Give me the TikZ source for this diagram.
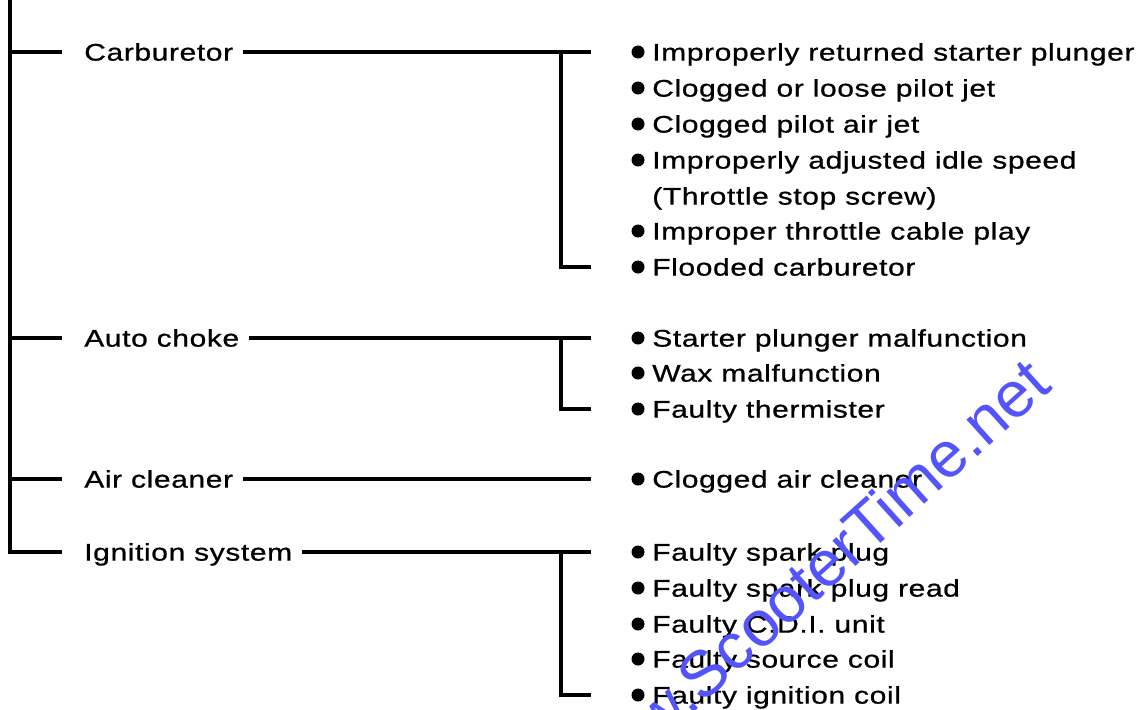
\documentclass[tikz,border=0pt]{standalone}
\usepackage{fontspec}
\newfontfamily\chartfont[FakeStretch=1.25,LetterSpace=2.5,FakeBold=0.8]{Liberation Sans}
\newfontfamily\markfont{Liberation Sans}
\definecolor{markblue}{RGB}{84,84,252}

\begin{document}
\begin{tikzpicture}[
    % one unit is one pixel, y runs downwards
    x=0.025cm, y=-0.025cm,
    link/.style = {draw, line width=2.2pt},
    % text height fixed so that west sits at the middle of the capitals
    group/.style = {anchor=west, inner sep=0pt, text height=0.43cm, text depth=0pt,
                    font=\chartfont\fontsize{17.07pt}{20pt}\selectfont},
    item/.style = {group},
    dot/.style = {circle, fill=black, inner sep=0pt, minimum size=0.325cm},
    watermark/.style = {anchor=base east, rotate=42, inner sep=0pt, text=markblue,
                        font=\markfont\fontsize{46pt}{54pt}\selectfont}
  ]
  \useasboundingbox (0,0) rectangle (1144,710);

  % groups on the left
  \node[group] (carb)  at (84,52)  {Carburetor};
  \node[group] (choke) at (84,338) {Auto choke};
  \node[group] (air)   at (84,479) {Air cleaner};
  \node[group] (ign)   at (84,552) {Ignition system};

  % causes on the right
  \foreach \y/\name/\text in {52/plunger/Improperly returned starter plunger,
                              88/pilotjet/Clogged or loose pilot jet,
                              124/airjet/Clogged pilot air jet,
                              160/idle/Improperly adjusted idle speed,
                              231/cable/Improper throttle cable play,
                              267/flooded/Flooded carburetor,
                              338/starter/Starter plunger malfunction,
                              373/wax/Wax malfunction,
                              409/thermister/Faulty thermister,
                              479/aircleaner/Clogged air cleaner,
                              552/sparkplug/Faulty spark plug,
                              588/plugread/Faulty spark plug read,
                              624/cdi/Faulty C.D.I. unit,
                              659/sourcecoil/Faulty source coil,
                              695/ignitioncoil/Faulty ignition coil}
  {
    \node[dot] (\name-dot) at (638,\y) {};
    \node[item] (\name) at (652,\y) {\text};
  }
  \node[item] (stopscrew) at (652,196) {(Throttle stop screw)};

  % trunk and stubs
  \coordinate (top) at (10,0);
  \coordinate (fork) at (561,0);
  \draw[link, shorten >=0.55cm] (top) |- (ign);
  \foreach \g in {carb,choke,air}
    \draw[link, shorten >=0.55cm] (top |- \g) -- (\g);

  % each group to its first cause
  \foreach \g/\first in {carb/plunger, choke/starter, air/aircleaner, ign/sparkplug}
    \draw[link, shorten <=0.25cm, shorten >=1cm] (\g) -- (\first-dot);
  % brackets down to the last cause
  \foreach \g/\last in {carb/flooded, choke/thermister, ign/ignitioncoil}
    \draw[link, shorten >=1cm] (fork |- \g) |- (\last-dot);

  \begin{scope}
    \clip (0,0) rectangle (1144,710);
    \node[watermark] (site) at (1054,388) {www.ScooterTime.net};
  \end{scope}
\end{tikzpicture}
\end{document}
